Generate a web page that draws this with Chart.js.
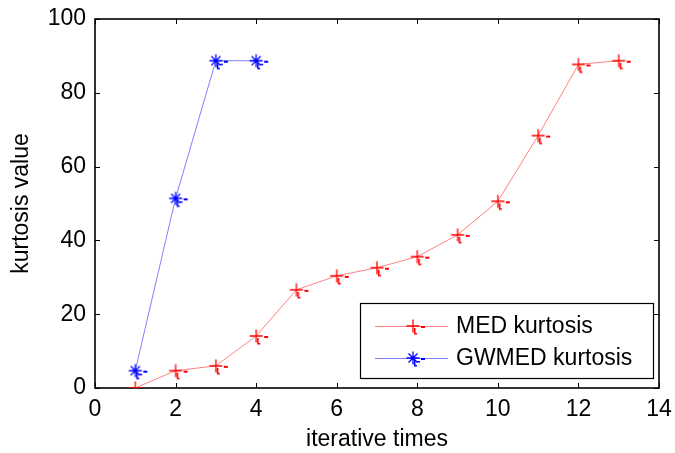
<!DOCTYPE html>
<html>
<head>
<meta charset="utf-8">
<script src="https://cdn.jsdelivr.net/npm/chart.js@4"></script>
<style>
  html, body { margin: 0; padding: 0; background: #fff; }
</style>
</head>
<body>
<canvas id="chart" width="675" height="453"></canvas>
<script>
// values
const medIter = [1, 2, 3, 4, 5, 6, 7, 8, 9, 10, 11, 12, 13];
const medKurtosis = [0, 4.7, 6.0, 14.1, 26.6, 30.4, 32.6, 35.6, 41.5, 50.6, 68.4, 87.7, 88.7];
const gwmedIter = [1, 2, 3, 4];
const gwmedKurtosis = [4.7, 51.4, 88.7, 88.7];
const xTicks = [0, 2, 4, 6, 8, 10, 12, 14];
const yTicks = [0, 20, 40, 60, 80, 100];
const seriesNames = ["MED kurtosis", "GWMED kurtosis"];

const FONT = "'Liberation Sans', Arial, sans-serif";
const FSIZE = 23;

// marker images (matlab style "+" and "*" with the little rendering stubs)
function makeMarker(color, star) {
  const c = document.createElement("canvas");
  c.width = 30;
  c.height = 30;
  const g = c.getContext("2d");
  g.strokeStyle = color;
  g.fillStyle = color;
  g.lineWidth = 1.3;
  g.beginPath();
  g.moveTo(8.5, 15); g.lineTo(21.5, 15);
  g.moveTo(15, 8.5); g.lineTo(15, 21.5);
  if (star) {
    g.moveTo(10.5, 10.5); g.lineTo(19.5, 19.5);
    g.moveTo(19.5, 10.5); g.lineTo(10.5, 19.5);
  }
  g.stroke();
  // stubs
  g.fillRect(23, 15, 4, 2);
  g.fillRect(16, 17, 1.5, 6);
  g.fillRect(16, 22, 3, 1.5);
  if (star) g.fillRect(19, 18, 3, 1.5);
  return c;
}
const redMarker = makeMarker("#ff0000", false);
const blueMarker = makeMarker("#0000ff", true);

const boxPlugin = {
  id: "matlabBox",
  beforeDatasetsDraw(chart) {
    const { ctx, chartArea: a, scales } = chart;
    ctx.save();
    ctx.strokeStyle = "#000";
    ctx.lineWidth = 1;
    ctx.beginPath();
    // inward ticks on all four sides
    xTicks.forEach((v) => {
      const px = Math.round(scales.x.getPixelForValue(v)) + 0.5;
      ctx.moveTo(px, a.bottom); ctx.lineTo(px, a.bottom - 5);
      ctx.moveTo(px, a.top); ctx.lineTo(px, a.top + 5);
    });
    yTicks.forEach((v) => {
      const py = Math.round(scales.y.getPixelForValue(v)) + 0.5;
      ctx.moveTo(a.left, py); ctx.lineTo(a.left + 5, py);
      ctx.moveTo(a.right, py); ctx.lineTo(a.right - 5, py);
    });
    ctx.stroke();
    ctx.lineWidth = 1.6;
    ctx.strokeRect(a.left, a.top, a.right - a.left, a.bottom - a.top);
    ctx.restore();
  },
  afterDraw(chart) {
    // legend box in the lower right corner
    const { ctx } = chart;
    const lx = 360, ly = 303, lw = 293, lh = 75;
    ctx.save();
    ctx.fillStyle = "#fff";
    ctx.fillRect(lx, ly, lw, lh);
    ctx.strokeStyle = "#000";
    ctx.lineWidth = 1.2;
    ctx.strokeRect(lx + 0.5, ly + 0.5, lw, lh);
    const rows = [
      { y: 326, color: "#ff8080", img: redMarker },
      { y: 358, color: "#8080ff", img: blueMarker },
    ];
    rows.forEach((r, i) => {
      ctx.strokeStyle = r.color;
      ctx.lineWidth = 1;
      ctx.beginPath();
      ctx.moveTo(375, r.y + 0.5);
      ctx.lineTo(448, r.y + 0.5);
      ctx.stroke();
      ctx.drawImage(r.img, 413 - 15, r.y - 15);
      ctx.fillStyle = "#000";
      ctx.font = FSIZE + "px " + FONT;
      ctx.textBaseline = "middle";
      ctx.textAlign = "left";
      ctx.fillText(seriesNames[i], 456, r.y + 1);
    });
    ctx.restore();
  },
};

new Chart(document.getElementById("chart"), {
  type: "line",
  data: {
    datasets: [
      {
        label: seriesNames[0],
        data: medIter.map((x, i) => ({ x, y: medKurtosis[i] })),
        borderColor: "#ff8080",
        borderWidth: 1,
        pointStyle: redMarker,
        pointRadius: 7,
        tension: 0,
        fill: false,
      },
      {
        label: seriesNames[1],
        data: gwmedIter.map((x, i) => ({ x, y: gwmedKurtosis[i] })),
        borderColor: "#8080ff",
        borderWidth: 1,
        pointStyle: blueMarker,
        pointRadius: 7,
        tension: 0,
        fill: false,
      },
    ],
  },
  options: {
    responsive: false,
    animation: false,
    events: [],
    layout: { padding: { top: 19, right: 16, left: 0, bottom: 0 } },
    plugins: { legend: { display: false }, tooltip: { enabled: false } },
    scales: {
      x: {
        type: "linear",
        min: 0,
        max: 14,
        afterBuildTicks: (s) => { s.ticks = xTicks.map((v) => ({ value: v })); },
        afterFit: (s) => {
          s.height = 65;
          s.paddingLeft = 0;
          s.paddingRight = 0;
        },
        grid: { display: false, drawTicks: false },
        border: { display: false },
        ticks: { color: "#000", font: { family: FONT, size: FSIZE }, padding: 8, maxRotation: 0 },
        title: {
          display: true,
          text: "iterative times",
          color: "#000",
          font: { family: FONT, size: FSIZE },
          padding: 0,
        },
      },
      y: {
        type: "linear",
        min: 0,
        max: 100,
        afterBuildTicks: (s) => { s.ticks = yTicks.map((v) => ({ value: v })); },
        afterFit: (s) => {
          s.width = 95;
          s.paddingTop = 0;
          s.paddingBottom = 0;
        },
        grid: { display: false, drawTicks: false },
        border: { display: false },
        ticks: { color: "#000", font: { family: FONT, size: FSIZE }, padding: 9 },
        title: {
          display: true,
          text: "kurtosis value",
          color: "#000",
          font: { family: FONT, size: FSIZE },
          padding: 8,
        },
      },
    },
  },
  plugins: [boxPlugin],
});
</script>
</body>
</html>
